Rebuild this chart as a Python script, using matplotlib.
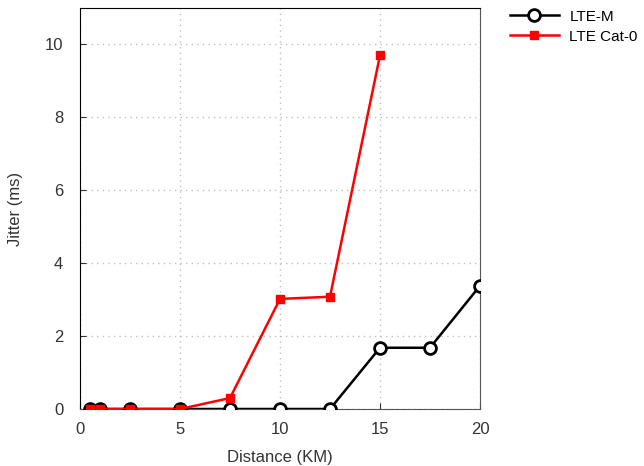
import numpy as np
import matplotlib.pyplot as plt

plt.rcParams['font.family'] = ['Liberation Sans', 'DejaVu Sans']

# Data
dist_m = [0.5, 1, 2.5, 5, 7.5, 10, 12.5, 15, 17.5, 20]
jitter_m = [0, 0, 0, 0, 0, 0, 0, 1.68, 1.68, 3.38]
dist_cat0 = [0.5, 1, 2.5, 5, 7.5, 10, 12.5, 15]
jitter_cat0 = [0, 0, 0, 0, 0.3, 3.02, 3.08, 9.7]

fig = plt.figure(figsize=(6.44, 4.66), dpi=100)
ax = fig.add_axes([80/644, 1-409/466, 400/644, 401/466])

ax.plot(dist_m, jitter_m, color='black', lw=1.8, marker='o', ms=8.5,
        mfc='white', mec='black', mew=2, label='LTE-M', zorder=3)
ax.plot(dist_cat0, jitter_cat0, color='red', lw=1.8, marker='s', ms=6,
        mfc='red', mec='red', label='LTE Cat-0', zorder=4)

ax.set_xlim(0, 20)
ax.set_ylim(0, 11)
ax.set_xticks([0, 5, 10, 15, 20])
ax.set_yticks([0, 2, 4, 6, 8, 10])
ax.grid(True, color='#c0c0c0', linestyle=(0, (1, 3)), lw=1)
ax.tick_params(direction='in', length=4, labelsize=12, colors='#333333', labelcolor='#333333')
ax.tick_params(axis='x', pad=9)
ax.tick_params(axis='y', pad=12)
for s in ax.spines.values():
    s.set_color('#555555')
ax.spines['left'].set_color('black')
ax.spines['top'].set_color('black')
ax.set_xlabel('Distance (KM)', fontsize=12, color='#333333', labelpad=10)
ax.set_ylabel('Jitter (ms)', fontsize=12, color='#333333', labelpad=16)

ax.legend(loc='upper left', bbox_to_anchor=(1.04, 1.03), frameon=False,
          fontsize=11, handlelength=3.2, handletextpad=0.7, labelspacing=0.4)

plt.savefig('out.png')
